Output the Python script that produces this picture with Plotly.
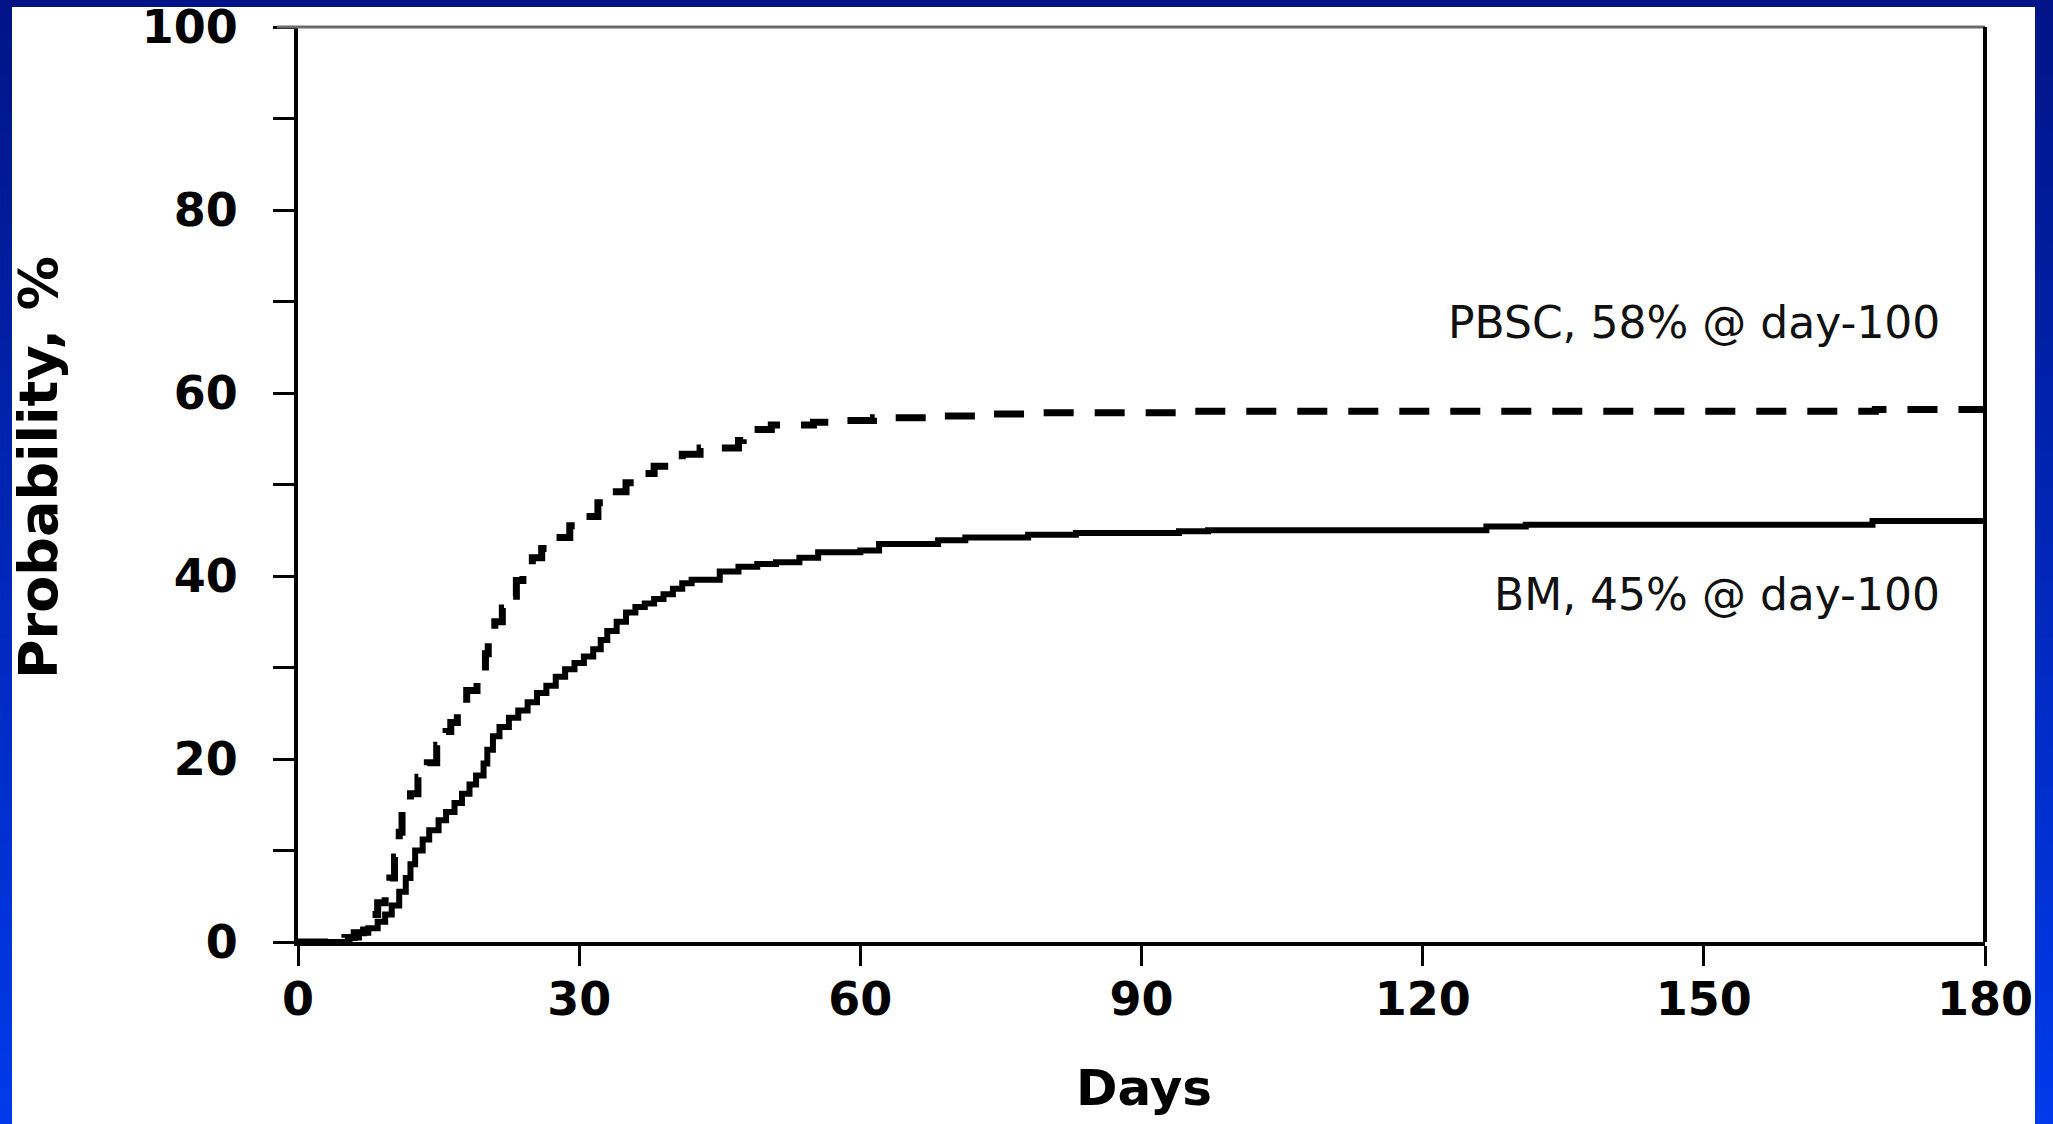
import plotly.graph_objects as go

# Cumulative incidence by days after transplant (step curves)
bm_days = [0, 5.5, 6.5, 7.5, 8.5, 9.3, 10.0, 10.8, 11.5, 12.0, 12.5, 13.3, 14.0, 15.0,
           15.8, 16.7, 17.5, 18.3, 19.0, 19.8, 20.2, 20.8, 21.5, 22.5, 23.5, 24.5, 25.5,
           26.5, 27.5, 28.5, 29.5, 30.5, 31.5, 32.3, 33.0, 34.0, 35.0, 36.0, 37.0, 38.0,
           39.0, 40.0, 41.0, 42.0, 45.0, 47.0, 49.0, 51.0, 53.5, 55.5, 60.0, 62.0, 68.3,
           71.2, 77.9, 83.0, 94.0, 97.1, 126.8, 131.0, 168.0, 180]
bm_prob = [0, 0.5, 1.0, 1.5, 2.2, 3.0, 4.0, 5.5, 7.0, 8.5, 10.0, 11.2, 12.2, 13.3,
           14.2, 15.2, 16.2, 17.2, 18.2, 19.5, 21.0, 22.5, 23.5, 24.5, 25.3, 26.2, 27.2,
           28.0, 29.0, 29.8, 30.5, 31.2, 32.0, 33.0, 34.0, 35.0, 36.0, 36.6, 37.0, 37.5,
           38.0, 38.6, 39.2, 39.6, 40.5, 41.0, 41.3, 41.5, 42.0, 42.6, 42.8, 43.5, 43.9,
           44.2, 44.5, 44.7, 44.9, 45.0, 45.4, 45.6, 46.0, 46.0]

pbsc_days = [0, 5.0, 6.0, 7.0, 7.8, 8.5, 9.3, 9.8, 10.3, 10.8, 11.1, 12.0, 12.8, 13.8,
             14.8, 15.8, 16.3, 17.0, 18.0, 19.1, 20.0, 20.3, 21.0, 21.8, 22.5, 23.3, 24.0,
             25.0, 26.0, 27.5, 29.0, 30.5, 32.0, 33.5, 35.0, 36.5, 38.0, 39.5, 41.0, 42.9,
             47.0, 47.5, 50.5, 55.0, 57.0, 61.4, 67.1, 72.3, 77.7, 94.0, 168.3, 180]
pbsc_prob = [0, 0.5, 1.0, 2.0, 3.0, 4.3, 5.5, 7.0, 9.3, 12.0, 14.5, 16.2, 18.0, 19.6,
             21.5, 23.0, 24.0, 25.4, 27.5, 29.0, 31.5, 33.3, 35.0, 36.5, 37.8, 39.5, 41.0,
             42.0, 43.0, 44.2, 45.5, 46.5, 48.0, 49.2, 50.2, 51.2, 52.0, 52.5, 53.3, 54.0,
             54.8, 56.0, 56.5, 56.8, 57.0, 57.3, 57.5, 57.7, 57.85, 58.0, 58.2, 58.2]

series_labels = ["PBSC, 58% @ day-100", "BM, 45% @ day-100"]

x_ticks = [0, 30, 60, 90, 120, 150, 180]
y_ticks = [0, 20, 40, 60, 80, 100]

# Page geometry (pixels) used to place decorations around the plot area
W, H = 2053, 1124
L, R, T, B = 298, 1985, 27, 942


def px_x(p):
    return (p - L) / (R - L)


def px_y(p):
    return (B - p) / (B - T)


fig = go.Figure()
fig.add_trace(go.Scatter(x=pbsc_days, y=pbsc_prob, mode="lines", line_shape="hv",
                         line=dict(color="black", width=7, dash="30px,21px"),
                         showlegend=False, hoverinfo="skip"))
fig.add_trace(go.Scatter(x=bm_days, y=bm_prob, mode="lines", line_shape="hv",
                         line=dict(color="black", width=6),
                         showlegend=False, hoverinfo="skip"))

shapes = []
# blue slide frame with a vertical gradient
top_rgb, bot_rgb = (0, 20, 135), (0, 58, 235)
n_bands = 60
band_h = H / n_bands
for i in range(n_bands):
    t = (i + 0.5) / n_bands
    col = "rgb(%d,%d,%d)" % tuple(round(a + (b - a) * t) for a, b in zip(top_rgb, bot_rgb))
    y0, y1 = i * band_h, (i + 1) * band_h + 1
    for x0, x1 in [(0, 12), (2035, W)]:
        shapes.append(dict(type="rect", xref="paper", yref="paper",
                           x0=px_x(x0), x1=px_x(x1), y0=px_y(y1), y1=px_y(y0),
                           fillcolor=col, line_width=0, layer="above"))
shapes.append(dict(type="rect", xref="paper", yref="paper",
                   x0=px_x(0), x1=px_x(W), y0=px_y(7), y1=px_y(0),
                   fillcolor="rgb(0,20,135)", line_width=0, layer="above"))
# frame: grey top edge, black right edge
shapes.append(dict(type="line", xref="paper", yref="paper",
                   x0=px_x(277), x1=1.0, y0=1, y1=1,
                   line=dict(color="#6a6a6a", width=3)))
shapes.append(dict(type="line", xref="paper", yref="paper",
                   x0=1, x1=1, y0=0, y1=1,
                   line=dict(color="black", width=4)))

annotations = [
    dict(text=series_labels[0], xref="paper", yref="paper",
         x=px_x(1942), y=px_y(322), xanchor="right", yanchor="middle", showarrow=False,
         font=dict(family="DejaVu Sans", size=44, color="#111111")),
    dict(text=series_labels[1], xref="paper", yref="paper",
         x=px_x(1942), y=px_y(594), xanchor="right", yanchor="middle", showarrow=False,
         font=dict(family="DejaVu Sans", size=44, color="#111111")),
    dict(text="Days", xref="paper", yref="paper",
         x=px_x(1144), y=px_y(1088), xanchor="center", yanchor="middle", showarrow=False,
         font=dict(family="DejaVu Sans", size=50, color="black", weight="bold")),
    dict(text="Probability, %", xref="paper", yref="paper", textangle=-90,
         x=px_x(38), y=px_y(468), xanchor="center", yanchor="middle", showarrow=False,
         font=dict(family="DejaVu Sans", size=54, color="black", weight="bold")),
]

tick_font = dict(family="DejaVu Sans", size=46, color="black", weight="bold")

fig.update_layout(
    width=W, height=H,
    margin=dict(l=L, r=W - R, t=T, b=H - B, pad=0),
    paper_bgcolor="white", plot_bgcolor="white",
    shapes=shapes, annotations=annotations,
    xaxis=dict(range=[0, 180], tickvals=x_ticks, ticks="outside", ticklen=20,
               tickwidth=3, tickcolor="black", showline=True, linewidth=4,
               linecolor="black", showgrid=False, zeroline=False, automargin=False,
               tickfont=tick_font, ticklabelstandoff=-6),
    yaxis=dict(range=[0, 100], tickvals=y_ticks, ticks="outside", ticklen=21,
               tickwidth=3, tickcolor="black", showline=True, linewidth=4,
               linecolor="black", showgrid=False, zeroline=False, automargin=False,
               tickfont=tick_font, ticklabelstandoff=26,
               minor=dict(dtick=10, ticks="outside", ticklen=21, tickwidth=3,
                          tickcolor="black")),
)

fig.write_html("out.html")
